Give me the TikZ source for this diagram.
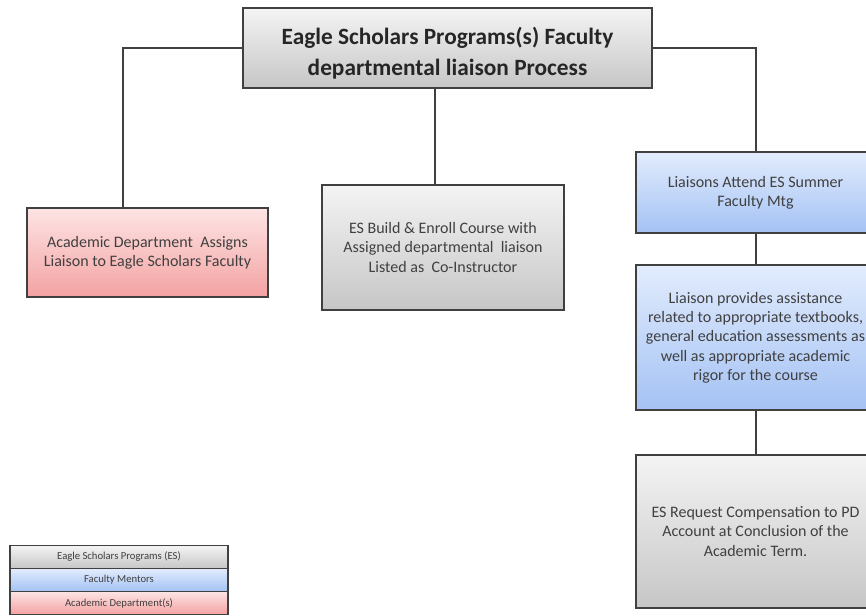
\documentclass[tikz,border=0pt]{standalone}
\usepackage{fontspec}
\setmainfont{Carlito}
\usetikzlibrary{shadows}
\definecolor{edge}{HTML}{404040}
\definecolor{greytop}{HTML}{F4F4F4}
\definecolor{greybot}{HTML}{C6C6C6}
\definecolor{bluetop}{HTML}{E2ECFD}
\definecolor{bluebot}{HTML}{A4C2F4}
\definecolor{pinktop}{HTML}{FDE4E4}
\definecolor{pinkbot}{HTML}{F4A2A2}
\begin{document}
\begin{tikzpicture}[x=0.75pt,y=-0.75pt,
  box/.style={draw=edge, line width=1.3pt, rectangle, align=center, inner sep=2pt,
    font=\fontsize{12}{14.5}\selectfont, text=black!75,
    drop shadow={shadow xshift=1pt, shadow yshift=-1pt, opacity=0.25}},
  grey/.style={box, top color=greytop, bottom color=greybot},
  blue/.style={box, top color=bluetop, bottom color=bluebot},
  pink/.style={box, top color=pinktop, bottom color=pinkbot},
  legend/.style={draw=edge, line width=1pt, rectangle, inner sep=0pt,
    minimum width=163.5pt, minimum height=17.25pt, font=\fontsize{8}{9}\selectfont, text=black!75},
  link/.style={draw=edge, line width=1.5pt}]
\clip (0,0) rectangle (866,616);

\node[grey, minimum width=306.75pt, minimum height=60pt, font=\fontsize{17.5}{23.5}\selectfont\bfseries, text=black!85]
  (title) at (447.5,48) {\rule{0pt}{21pt}Eagle Scholars Programs(s) Faculty\\departmental liaison Process};

\node[pink, minimum width=180.75pt, minimum height=66.75pt] (assign) at (147.5,252.5)
  {Academic Department\ \ Assigns\\Liaison to Eagle Scholars Faculty};
\node[grey, minimum width=181.5pt, minimum height=93.75pt] (enroll) at (443,247.5)
  {ES Build \& Enroll Course with\\Assigned departmental\ \ liaison\\Listed as\ \ Co-Instructor};

\node[blue, minimum width=179.25pt, minimum height=60.75pt] (attend) at (755.5,192.5)
  {Liaisons Attend ES Summer\\Faculty Mtg};
\node[blue, minimum width=179.25pt, minimum height=108.75pt] (assist) at (755.5,337.5)
  {Liaison provides assistance\\related to appropriate textbooks,\\general education assessments as\\well as appropriate\ academic\\rigor for the course};
\node[grey, minimum width=179.25pt, minimum height=114.75pt] (comp) at (755.5,531.5)
  {ES Request Compensation\ to PD\\Account\ at Conclusion of the\\Academic Term.};

\coordinate (assignTop) at (123,208);
\coordinate (enrollTop) at (435,185);

\begin{scope}
  \draw[link] (title.west) -| (assignTop);
  \draw[link] (title.east) -| (attend.north);
  \draw[link] (enrollTop) -- (enrollTop |- title.south);
  \draw[link] (attend) -- (assist);
  \draw[link] (assist) -- (comp);
\end{scope}

% legend
\node[legend, top color=greytop, bottom color=greybot] (lgES) at (119,557) {Eagle Scholars Programs (ES)};
\node[legend, top color=bluetop, bottom color=bluebot] (lgFM) at (119,580) {Faculty Mentors};
\node[legend, top color=pinktop, bottom color=pinkbot] (lgAD) at (119,603) {Academic Department(s)};
\end{tikzpicture}
\end{document}
